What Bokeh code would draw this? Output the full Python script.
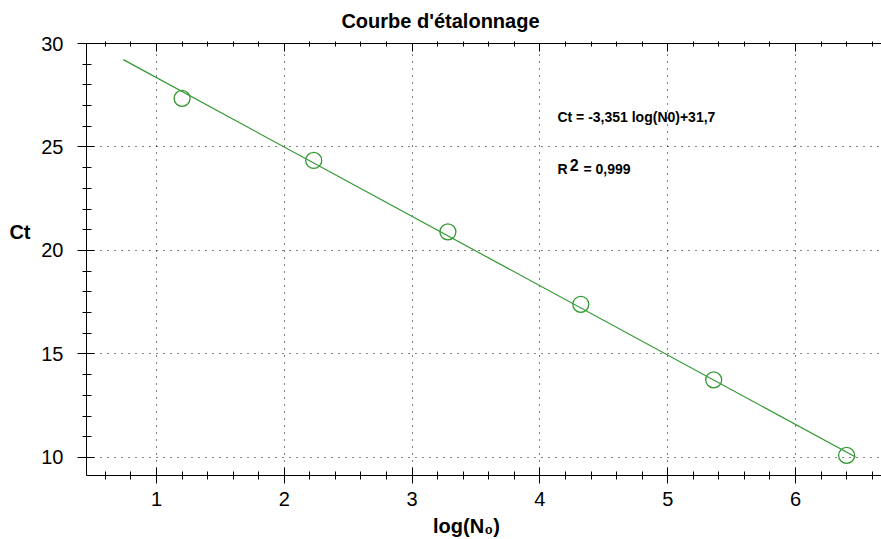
from bokeh.plotting import figure
from bokeh.models import LinearAxis, FixedTicker, Label, Range1d
from bokeh.embed import file_html
from bokeh.resources import INLINE

# ---- data ----
log_n0 = [1.20, 2.23, 3.28, 4.32, 5.36, 6.40]
ct_values = [27.35, 24.35, 20.9, 17.4, 13.75, 10.1]
fit_x = [0.74, 6.47]
fit_y = [29.22, 10.02]
x_ticks = [1, 2, 3, 4, 5, 6]
x_minor = [0.6, 0.8, 1.2, 1.4, 1.6, 1.8, 2.2, 2.4, 2.6, 2.8, 3.2, 3.4, 3.6, 3.8,
           4.2, 4.4, 4.6, 4.8, 5.2, 5.4, 5.6, 5.8, 6.2, 6.4, 6.6]
y_ticks = [10, 15, 20, 25, 30]
y_minor = list(range(10, 31))
title_text = "Courbe d'étalonnage"
xlabel_text = "log(N₀)"
ylabel_text = "Ct"
eq_text = "Ct = -3,351 log(N0)+31,7"
r2_parts = ["R", "2", "= 0,999"]

FONT = "Liberation Sans"
GREEN = "#339933"

# positions (data units) of the texts placed as single-tick axis labels
TITLE_X = 3.222
XLABEL_X = 3.425
YLABEL_Y = 20.87

p = figure(width=881, height=539, output_backend="svg", toolbar_location=None,
           x_range=Range1d(0.452, 6.673), y_range=Range1d(9.13, 30.0),
           x_axis_location=None, y_axis_location=None,
           min_border_left=86, min_border_right=0, min_border_top=43, min_border_bottom=64)
p.outline_line_color = None
p.background_fill_color = "white"
p.border_fill_color = "white"

xt = FixedTicker(ticks=x_ticks, minor_ticks=x_minor)
yt = FixedTicker(ticks=y_ticks, minor_ticks=y_minor)

def style(ax):
    ax.axis_line_color = "black"
    ax.major_tick_line_color = "black"
    ax.minor_tick_line_color = "black"
    ax.major_label_text_font = FONT
    ax.major_label_text_font_size = "20px"
    ax.major_label_text_color = "black"

def text_axis(pos, text, standoff):
    ax = LinearAxis(ticker=FixedTicker(ticks=[pos], minor_ticks=[]),
                    major_label_overrides={pos: text})
    ax.axis_line_color = None
    ax.major_tick_line_color = None
    ax.minor_tick_line_color = None
    ax.major_tick_in = 0
    ax.major_tick_out = 0
    ax.major_label_standoff = standoff
    ax.major_label_text_font = FONT
    ax.major_label_text_font_size = "20px"
    ax.major_label_text_font_style = "bold"
    ax.major_label_text_color = "black"
    return ax

xb = LinearAxis(ticker=xt)
style(xb)
xb.major_tick_in = 8
xb.major_tick_out = 8
xb.minor_tick_in = 4
xb.minor_tick_out = 4
xb.major_label_standoff = 8
p.add_layout(xb, "below")
p.add_layout(text_axis(XLABEL_X, xlabel_text, 6), "below")

yl = LinearAxis(ticker=yt)
style(yl)
yl.major_tick_in = 8
yl.major_tick_out = 9
yl.minor_tick_in = 5
yl.minor_tick_out = 4
yl.major_label_standoff = 14
p.add_layout(yl, "left")
p.add_layout(text_axis(YLABEL_Y, ylabel_text, 8), "left")

xtop = LinearAxis(ticker=xt)
style(xtop)
xtop.major_tick_in = 8
xtop.major_tick_out = 0
xtop.minor_tick_in = 3
xtop.minor_tick_out = 2
xtop.major_label_text_alpha = 0
xtop.major_label_text_font_size = "1px"
xtop.major_label_standoff = 0
p.add_layout(xtop, "above")
p.add_layout(text_axis(TITLE_X, title_text, 10), "above")

for g, t in ((p.xgrid, xt), (p.ygrid, yt)):
    g.ticker = t
    g.grid_line_color = "black"
    g.grid_line_dash = "1 6"
    g.grid_line_width = 1

p.line(fit_x, fit_y, line_color=GREEN, line_width=1.2)
p.scatter(log_n0, ct_values, marker="circle", size=16, fill_color=None,
          line_color=GREEN, line_width=1.3)

def lab(x, y, text, size, baseline="middle"):
    p.add_layout(Label(x=x, y=y, text=text, text_font=FONT, text_font_size=size,
                       text_font_style="bold", text_color="black",
                       text_align="left", text_baseline=baseline))

lab(4.137, 26.43, eq_text, "14px")
lab(4.137, 23.96, r2_parts[0], "14px", baseline="alphabetic")
lab(4.233, 24.11, r2_parts[1], "16px", baseline="alphabetic")
lab(4.341, 23.96, r2_parts[2], "14px", baseline="alphabetic")

open("out.html", "w").write(file_html(p, INLINE))
